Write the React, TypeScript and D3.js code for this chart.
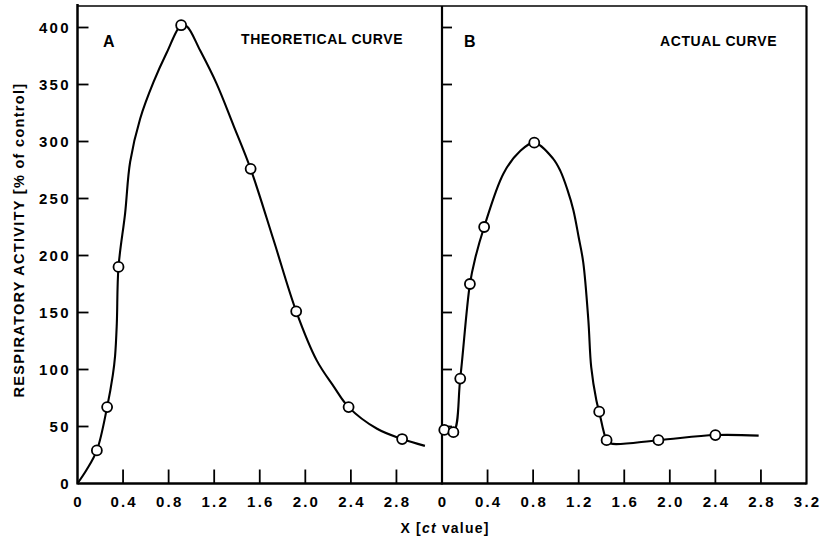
import React from "react";
import * as d3 from "d3";

// ---- data ----
const yTicks = [0, 50, 100, 150, 200, 250, 300, 350, 400];
const xTicksA = [0, 0.4, 0.8, 1.2, 1.6, 2.0, 2.4, 2.8];
const xTicksB = [0, 0.4, 0.8, 1.2, 1.6, 2.0, 2.4, 2.8, 3.2];

// Panel A: theoretical curve
const theoreticalPoints: [number, number][] = [
  [0.17, 29], [0.26, 67], [0.36, 190], [0.91, 402], [1.52, 276],
  [1.92, 151], [2.38, 67], [2.85, 39],
];
const theoreticalCurve: [number, number][] = [
  [0, 0], [0.08, 12], [0.17, 29], [0.26, 67], [0.31, 95], [0.33, 112], [0.345, 140],
  [0.36, 190], [0.418, 237], [0.462, 282], [0.55, 320], [0.667, 352], [0.784, 378],
  [0.91, 402], [0.96, 401], [1.076, 380], [1.22, 351], [1.37, 314], [1.52, 276],
  [1.72, 214], [1.92, 151], [2.10, 108], [2.25, 85], [2.38, 67],
  [2.63, 48], [2.85, 39], [3.05, 33],
];

// Panel B: actual curve
const actualPoints: [number, number][] = [
  [0.02, 47], [0.10, 45], [0.16, 92], [0.245, 175], [0.37, 225], [0.81, 299],
  [1.38, 63], [1.445, 38], [1.90, 38], [2.40, 42.5],
];
const actualCurve: [number, number][] = [
  [0, 47], [0.02, 47], [0.10, 45], [0.16, 92], [0.245, 175], [0.29, 197], [0.37, 225],
  [0.54, 272], [0.68, 291], [0.81, 299], [0.975, 285], [1.04, 274], [1.10, 258],
  [1.153, 240], [1.20, 216], [1.24, 194], [1.285, 143], [1.31, 102], [1.355, 73],
  [1.38, 63], [1.445, 38], [1.48, 35], [1.90, 38], [2.40, 42.5], [2.78, 42],
];

const FONT = "'Liberation Sans', Arial, Helvetica, sans-serif";

export default function App() {
  const W = 823, H = 536;
  const top = 6, bottom = 483.5;
  const xA = d3.scaleLinear().domain([0, 3.2]).range([77.5, 442]);
  const xB = d3.scaleLinear().domain([0, 3.2]).range([442, 806.5]);
  const y = d3.scaleLinear().domain([0, 400]).range([483.5, 27.5]);

  const lineA = d3.line<[number, number]>()
    .x((d) => xA(d[0])).y((d) => y(d[1]))
    .curve(d3.curveCatmullRom.alpha(0.5));
  const lineB = d3.line<[number, number]>()
    .x((d) => xB(d[0])).y((d) => y(d[1]))
    .curve(d3.curveCatmullRom.alpha(0.5));

  const fmt = (v: number) => (v === 0 ? "0" : d3.format(".1f")(v));
  const tickLS = 2.2;
  const tickFS = 15;

  return (
    <svg width={W} height={H} style={{ position: "absolute", left: 0, top: 0, background: "#fff" }}
      fontFamily={FONT}>
      <rect x={0} y={0} width={W} height={H} fill="#fff" />
      {/* frame */}
      <line x1={xA(0)} x2={xB(3.2)} y1={top} y2={top} stroke="#000" strokeWidth={1.5} />
      <line x1={xA(0)} x2={xB(3.2)} y1={bottom} y2={bottom} stroke="#000" strokeWidth={2.5} />
      <line x1={xA(0)} x2={xA(0)} y1={top - 2} y2={bottom + 1} stroke="#000" strokeWidth={2.5} />
      <line x1={xB(0)} x2={xB(0)} y1={top} y2={bottom + 1} stroke="#000" strokeWidth={2.2} />
      <line x1={xB(3.2)} x2={xB(3.2)} y1={top} y2={bottom + 1} stroke="#000" strokeWidth={2.2} />

      {/* y ticks */}
      {yTicks.filter((t) => t > 0).map((t) => (
        <g key={"ya" + t}>
          <line x1={xA(0)} x2={xA(0) + 11} y1={y(t)} y2={y(t)} stroke="#000" strokeWidth={1.8} />
          <line x1={xB(0)} x2={xB(0) + 10} y1={y(t)} y2={y(t)} stroke="#000" strokeWidth={1.8} />
        </g>
      ))}
      {yTicks.map((t) => (
        <text key={"yl" + t} x={68.5 + tickLS} y={y(t)} dy="0.36em" textAnchor="end"
          fontSize={tickFS} fontWeight="bold" letterSpacing={tickLS}>{t}</text>
      ))}

      {/* x ticks */}
      {xTicksA.filter((t) => t > 0).map((t) => (
        <line key={"xa" + t} x1={xA(t)} x2={xA(t)} y1={bottom} y2={bottom - 14} stroke="#000" strokeWidth={1.8} />
      ))}
      {xTicksB.filter((t) => t > 0 && t < 3.2).map((t) => (
        <line key={"xb" + t} x1={xB(t)} x2={xB(t)} y1={bottom} y2={bottom - 14} stroke="#000" strokeWidth={1.8} />
      ))}
      {xTicksA.map((t) => (
        <text key={"xla" + t} x={xA(t) + tickLS / 2} y={507} textAnchor="middle"
          fontSize={tickFS} fontWeight="bold" letterSpacing={tickLS}>{fmt(t)}</text>
      ))}
      {xTicksB.map((t) => (
        <text key={"xlb" + t} x={xB(t) + tickLS / 2} y={507} textAnchor="middle"
          fontSize={tickFS} fontWeight="bold" letterSpacing={tickLS}>{fmt(t)}</text>
      ))}

      {/* axis titles */}
      <text x={445} y={533} textAnchor="middle" fontSize={14} fontWeight="bold" letterSpacing={1.2}>
        X [<tspan fontStyle="italic">ct</tspan> value]
      </text>
      <text transform="translate(24,240) rotate(-90)" textAnchor="middle" fontSize={14.5}
        fontWeight="bold" letterSpacing={1.3}>
        RESPIRATORY ACTIVITY [% of control]
      </text>

      {/* panel labels */}
      <text x={103} y={47} fontSize={16} fontWeight="bold">A</text>
      <text x={241} y={44} fontSize={14} fontWeight="bold" letterSpacing={0.6}>THEORETICAL CURVE</text>
      <text x={464} y={47} fontSize={16} fontWeight="bold">B</text>
      <text x={660} y={46} fontSize={14} fontWeight="bold" letterSpacing={0.6}>ACTUAL CURVE</text>

      {/* curves */}
      <path d={lineA(theoreticalCurve) ?? ""} fill="none" stroke="#000" strokeWidth={2.1} />
      <path d={lineB(actualCurve) ?? ""} fill="none" stroke="#000" strokeWidth={2.1} />

      {/* markers */}
      {theoreticalPoints.map((p, i) => (
        <circle key={"pa" + i} cx={xA(p[0])} cy={y(p[1])} r={5} fill="#fff" stroke="#000" strokeWidth={1.8} />
      ))}
      {actualPoints.map((p, i) => (
        <circle key={"pb" + i} cx={xB(p[0])} cy={y(p[1])} r={5} fill="#fff" stroke="#000" strokeWidth={1.8} />
      ))}
    </svg>
  );
}
